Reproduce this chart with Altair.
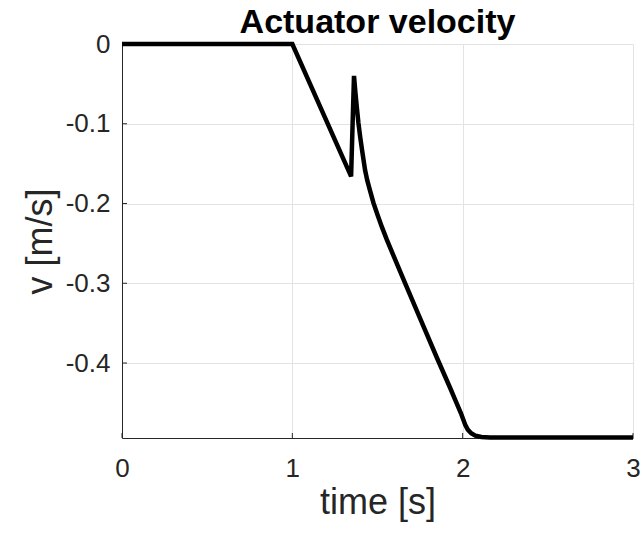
import altair as alt
import pandas as pd

# Actuator velocity trace (time [s], velocity [m/s])
time_s = [0.0, 1.0, 1.345, 1.362, 1.370, 1.378, 1.388, 1.398, 1.410, 1.427,
          1.440, 1.455, 1.476, 1.500, 1.525, 1.554, 1.650, 1.750, 1.850,
          1.926, 1.955, 1.975, 1.990, 2.003, 2.015, 2.030, 2.050, 2.075,
          2.110, 2.160, 2.500, 3.000]
velocity = [0.0, 0.0, -0.166, -0.040, -0.060, -0.078, -0.099, -0.116, -0.134,
            -0.158, -0.171, -0.183, -0.199, -0.214, -0.229, -0.245, -0.294,
            -0.344, -0.394, -0.431, -0.4455, -0.4555, -0.463, -0.4705,
            -0.4775, -0.4835, -0.488, -0.491, -0.4927, -0.4933, -0.4935,
            -0.4935]

x_ticks = [0, 1, 2, 3]
y_ticks = [0, -0.1, -0.2, -0.3, -0.4]
x_domain = [0, 3]
y_domain = [-0.494, 0]

df = pd.DataFrame({"t": time_s, "v": velocity})
xt = pd.DataFrame({"t": x_ticks})
yt = pd.DataFrame({"v": y_ticks})

FONT = "Liberation Sans"
AX = "#262626"

xscale = alt.Scale(domain=x_domain, nice=False, zero=False)
yscale = alt.Scale(domain=y_domain, nice=False, zero=False)

line = alt.Chart(df).mark_line(color="black", strokeWidth=4.5, strokeJoin="miter", clip=False).encode(
    x=alt.X("t:Q", scale=xscale, title="time [s]",
            axis=alt.Axis(values=x_ticks, format="d", grid=True, ticks=False, tickSize=0,
                          labelFlush=False, labelPadding=17, titlePadding=4)),
    y=alt.Y("v:Q", scale=yscale, title="v [m/s]",
            axis=alt.Axis(values=y_ticks, format="~g", grid=True, ticks=False, tickSize=0,
                          labelFlush=False, labelPadding=12, titlePadding=6,
                          labelExpr="replace(datum.label, '\u2212', '-')")),
)

xticks_marks = alt.Chart(xt).mark_rule(color=AX, strokeWidth=1).encode(
    x=alt.X("t:Q", scale=xscale),
    y=alt.value(394),
    y2=alt.value(389),
)
yticks_marks = alt.Chart(yt).mark_rule(color=AX, strokeWidth=1).encode(
    y=alt.Y("v:Q", scale=yscale),
    x=alt.value(0),
    x2=alt.value(5),
)

chart = alt.layer(xticks_marks, yticks_marks, line).properties(
    width=511,
    height=394,
    padding={"left": 122, "top": 44, "right": 9, "bottom": 96},
    autosize=alt.AutoSizeParams(type="none"),
    background="white",
    title=alt.TitleParams("Actuator velocity", font=FONT, fontSize=34, fontWeight="bold",
                          color="black", anchor="middle", frame="group", offset=0, dy=9),
).configure_view(
    stroke=None
).configure_axis(
    labelFont=FONT, titleFont=FONT, labelFontSize=26, titleFontSize=36,
    labelColor=AX, titleColor=AX, titleFontWeight="normal",
    domainColor=AX, domainWidth=1, gridColor="#e3e3e3", gridWidth=1,
)

chart.save("out.html", embed_options={"renderer": "svg", "actions": False})
